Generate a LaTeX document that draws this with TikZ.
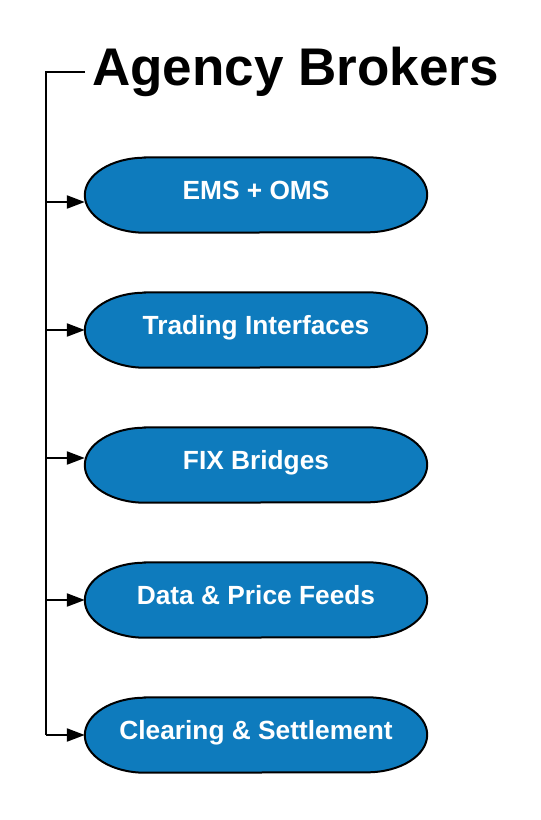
\documentclass[tikz,border=0pt]{standalone}
\usepackage{fontspec}
\setmainfont{Liberation Sans}
\usetikzlibrary{calc,arrows.meta,backgrounds}
\definecolor{pillblue}{RGB}{14,123,189}
\tikzset{
	pill/.style={minimum width=342pt,minimum height=75pt,inner sep=0pt,text=white,
		font=\fontsize{26.3}{30}\selectfont\bfseries,text height=0.9em,text depth=0em},
	pillshape/.style={fill=pillblue,draw=black,line width=2pt},
	feed/.style={line width=2.2pt,-{Triangle[length=18pt,width=13pt]}}
}
\newcommand{\pillaround}[1]{\path[pillshape] ($(#1.north west)+(60pt,0)$) -- ($(#1.north east)+(-60pt,0)$)
	arc[start angle=90,end angle=-90,x radius=60pt,y radius=37.5pt] -- ($(#1.south west)+(60pt,0)$)
	arc[start angle=270,end angle=90,x radius=60pt,y radius=37.5pt] -- cycle;}
\begin{document}
\begin{tikzpicture}[x=1pt,y=-1pt]
				\useasboundingbox (0,0) rectangle (541,820);
				\node[anchor=west,inner sep=7pt,font=\fontsize{53}{60}\selectfont\bfseries] (title) at (85,72) {Agency Brokers};
				\node[pill] (ems) at (256,195) {EMS + OMS};
				\node[pill] (trading) at (256,330) {Trading Interfaces};
				\node[pill] (fix) at (256,465) {FIX Bridges};
				\node[pill] (feeds) at (256,600) {Data \& Price Feeds};
				\node[pill] (clearing) at (256,735) {Clearing \& Settlement};
				\begin{scope}[on background layer]
					\pillaround{ems}
					\pillaround{trading}
					\pillaround{fix}
					\pillaround{feeds}
					\pillaround{clearing}
				\end{scope}
				\coordinate (top) at (46,72);
				\coordinate (emsin) at ([yshift=-7pt]ems.west);
				\coordinate (fixin) at ([yshift=7pt]fix.west);
				\draw[line width=2.2pt] (title.west) -- (top) -- (top |- clearing.west);
				\draw[feed] (top |- emsin) -- (emsin);
				\draw[feed] (top |- trading.west) -- (trading.west);
				\draw[feed] (top |- fixin) -- (fixin);
				\draw[feed] (top |- feeds.west) -- (feeds.west);
				\draw[feed] (top |- clearing.west) -- (clearing.west);
\end{tikzpicture}
\end{document}
